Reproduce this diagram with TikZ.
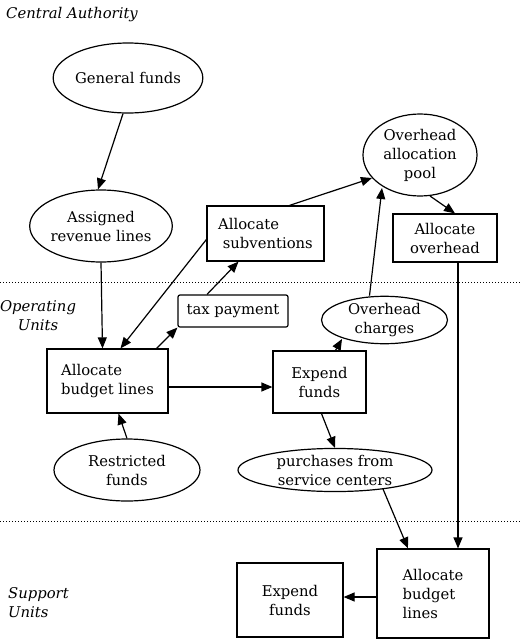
\documentclass[tikz,border=0pt]{standalone}
\usepackage{fontspec}
\setmainfont{DejaVu Serif}
\usetikzlibrary{arrows.meta,shapes.geometric,calc}
\begin{document}
\begin{tikzpicture}[x=1pt,y=-1pt,
 every node/.style={font=\fontsize{14.8}{19}\selectfont, inner sep=0pt},
 ell/.style={draw, ellipse, line width=1.2pt, align=center},
 box/.style={draw, rectangle, line width=1.2pt, align=left},
 arr/.style={line width=1.2pt, -{Triangle[length=11pt,width=9pt]}},
 sep/.style={dotted, line width=1pt},
 lab/.style={font=\fontsize{14.8}{19}\selectfont\itshape, align=center}]
\useasboundingbox (0,0) rectangle (522,640);
% separators
\draw[sep] (0,282) -- (522,282);
\draw[sep] (0,521) -- (522,521);
% labels
\node[lab, anchor=west] (ca) at (6,15) {Central Authority};
\node[lab] (ou) at (38,316) {Operating\\Units};
\node[lab, align=left, anchor=west] (su) at (8,603) {Support\\Units};
% nodes
\node[ell, minimum width=144pt, minimum height=70pt] (gf) at (128,78) {General funds};
\node[ell, minimum width=108pt, minimum height=72pt] (arl) at (101,226) {Assigned\\revenue lines};
\node[box, minimum width=121pt, minimum height=64pt] (abl) at (107.5,381) {Allocate\\budget lines};
\node[box, rounded corners=2pt, minimum width=110pt, minimum height=32pt] (tax) at (233,311) {tax payment};
\node[box, minimum width=117pt, minimum height=55pt] (as) at (265.5,233.5) {Allocate\\\ subventions};
\node[ell, minimum width=114pt, minimum height=82pt] (pool) at (420,155) {Overhead\\allocation\\pool};
\node[box, minimum width=104pt, minimum height=48pt, align=center] (ao) at (445,238) {Allocate\\overhead};
\node[ell, minimum width=126pt, minimum height=44pt] (oc) at (384.5,320) {Overhead\\charges};
\node[box, minimum width=93pt, minimum height=62pt, align=center] (ef) at (319.5,382) {Expend\\funds};
\node[ell, minimum width=194pt, minimum height=42pt] (pur) at (335,470) {purchases from\\service centers};
\node[ell, minimum width=146pt, minimum height=62pt] (rf) at (127,470) {Restricted\\funds};
\node[box, minimum width=112pt, minimum height=89pt] (sabl) at (433,593.5) {Allocate\\budget\\lines};
\node[box, minimum width=106pt, minimum height=74pt, align=center] (sef) at (290,600) {Expend\\funds};
% connectors
\draw[arr] ($(gf.south)+(-5,0)$) -- ($(arl.north)+(-3,0)$);
\draw[arr] (arl.south) -- ($(abl.north)+(-5,0)$);
\draw[arr] ($(as.west)+(0,6)$) -- ($(abl.north)+(13,0)$);
\draw[arr] ($(abl.north east)+(-12,0)$) -- (tax.south west);
\draw[arr] ($(tax.north)+(-26,0)$) -- ($(as.south)+(-27,0)$);
\draw[arr] ($(as.north)+(24,0)$) -- ($(pool.center)+(-48,23)$);
\draw[arr] ($(pool.center)+(10,41)$) -- ($(ao.north)+(10,0)$);
\draw[arr] ($(ao.south)+(13,0)$) -- ($(sabl.north)+(25,0)$);
\draw[arr] ($(oc.north)+(-15,0)$) -- ($(pool.center)+(-38,33)$);
\draw[arr] ($(ef.north)+(16,0)$) -- ($(oc.center)+(-42.5,19)$);
\draw[arr] ($(abl.east)+(0,6)$) -- ($(ef.west)+(0,5)$);
\draw[arr] ($(ef.south)+(2,0)$) -- (pur.north);
\draw[arr] (rf.north) -- ($(abl.south)+(11,0)$);
\draw[arr] ($(pur.center)+(48,19)$) -- ($(sabl.north)+(-25,0)$);
\draw[arr] ($(sabl.west)+(0,3.5)$) -- ($(sef.east)+(0,-3)$);
\end{tikzpicture}
\end{document}
